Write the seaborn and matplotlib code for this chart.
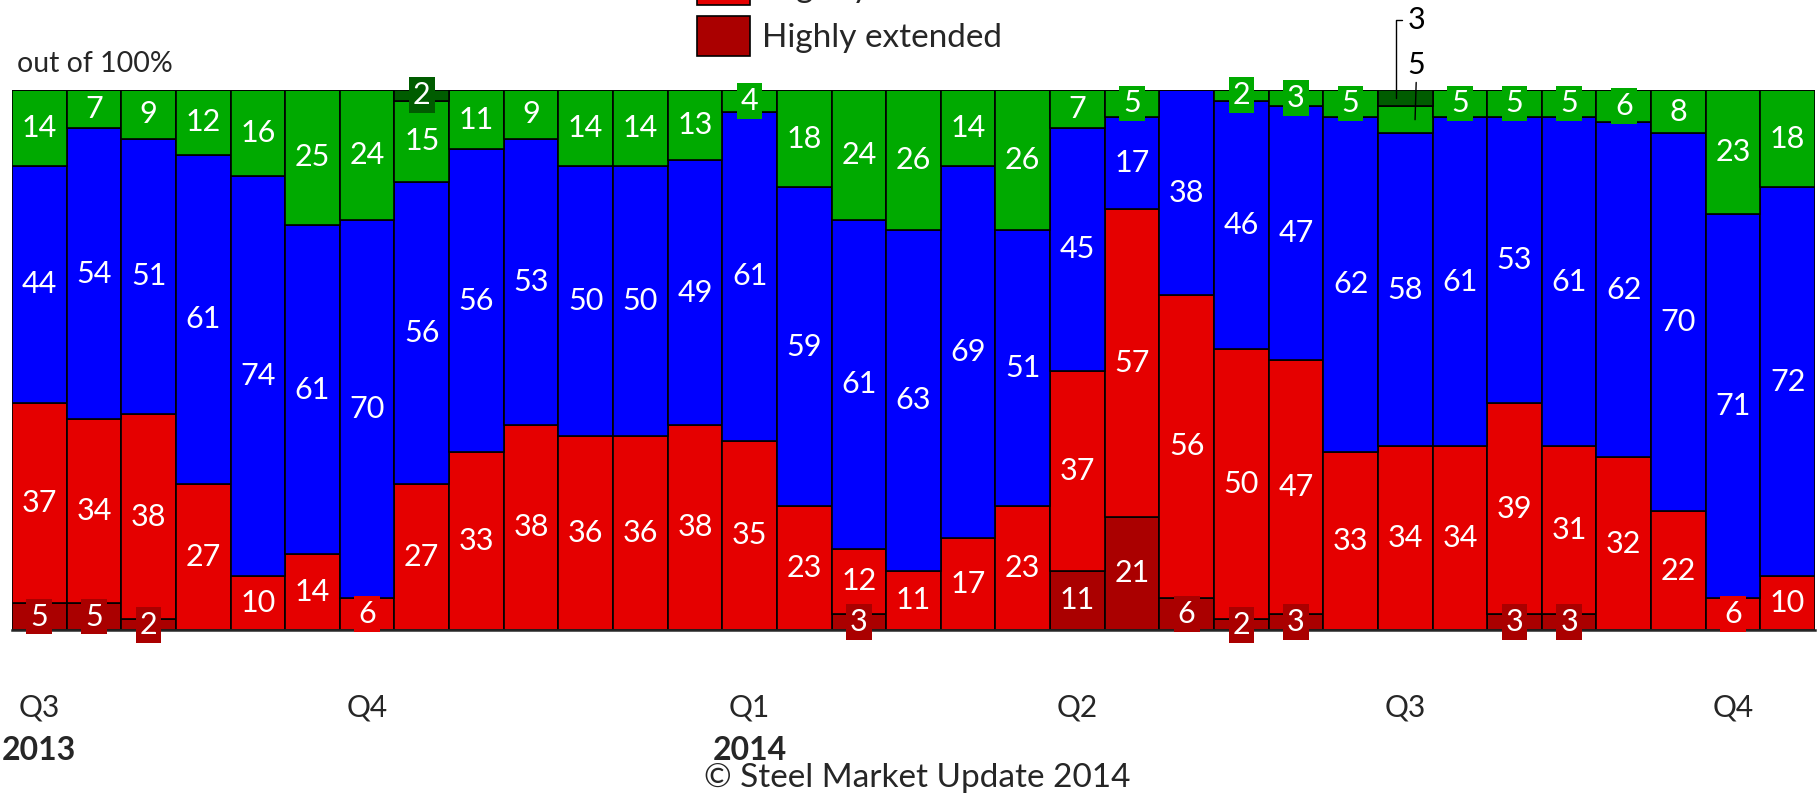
import matplotlib
matplotlib.use("Agg")
import matplotlib.pyplot as plt
import seaborn as sns
import pandas as pd
from matplotlib.patches import Patch

# Survey rounds, mid-2013 through late 2014 (percent of respondents)
surveys = [str(i) for i in range(1, 34)]

highly_extended = [5, 5, 2, 0, 0, 0, 0, 0, 0, 0, 0, 0, 0, 0, 0, 3, 0, 0, 0, 11,
                   21, 6, 2, 3, 0, 0, 0, 3, 3, 0, 0, 0, 0]
extended = [37, 34, 38, 27, 10, 14, 6, 27, 33, 38, 36, 36, 38, 35, 23, 12, 11, 17,
            23, 37, 57, 56, 50, 47, 33, 34, 34, 39, 31, 32, 22, 6, 10]
normal = [44, 54, 51, 61, 74, 61, 70, 56, 56, 53, 50, 50, 49, 61, 59, 61, 63, 69,
          51, 45, 17, 38, 46, 47, 62, 58, 61, 53, 61, 62, 70, 71, 72]
shorter = [14, 7, 9, 12, 16, 25, 24, 15, 11, 9, 14, 14, 13, 4, 18, 24, 26, 14, 26,
           7, 5, 0, 2, 3, 5, 5, 5, 5, 5, 6, 8, 23, 18]
much_shorter = [0, 0, 0, 0, 0, 0, 0, 2, 0, 0, 0, 0, 0, 0, 0, 0, 0, 0, 0, 0, 0, 0,
                0, 0, 0, 3, 0, 0, 0, 0, 0, 0, 0]

series_names = ["Highly extended", "Slightly extended", "Normal",
                "Shorter", "Much shorter"]
series_values = [highly_extended, extended, normal, shorter, much_shorter]
series_colors = ["#AA0000", "#E50000", "#0000FF", "#00AA00", "#005C00"]

quarter_pos = [0, 6, 13, 19, 25, 31]
quarter_labels = ["Q3", "Q4", "Q1", "Q2", "Q3", "Q4"]
year_pos = [0, 13]
year_labels = ["2013", "2014"]

# segments whose labels sit above the plot with leader lines
leader_bar = 25

sns.set_style("white")
plt.rcParams["font.family"] = ["Lato", "DejaVu Sans"]

fig = plt.figure(figsize=(18.2, 7.94), dpi=100)
ax = fig.add_axes([12 / 1820, 1 - 630 / 794, 1803 / 1820, 540 / 794])

bottom = [0] * len(surveys)
for name, vals, col in zip(series_names, series_values, series_colors):
    df = pd.DataFrame({"survey": surveys, "pct": vals})
    sns.barplot(data=df, x="survey", y="pct", bottom=bottom, color=col,
                saturation=1, width=1.0, edgecolor="black", linewidth=1.2,
                errorbar=None, ax=ax)
    for i, (b, v) in enumerate(zip(bottom, vals)):
        if v <= 0 or i == leader_bar and name in ("Shorter", "Much shorter"):
            continue
        ax.text(i, b + v / 2, str(v), ha="center", va="center",
                color="white", fontsize=22, zorder=10,
                bbox=dict(boxstyle="square,pad=0.13", facecolor=col,
                          edgecolor="none"))
    bottom = [b + v for b, v in zip(bottom, vals)]

# leader-line labels for the thin top segments of one bar
base_sh = 100 - much_shorter[leader_bar] - shorter[leader_bar]
ax.annotate(str(much_shorter[leader_bar]),
            xy=(leader_bar - 0.17, 100 - much_shorter[leader_bar] / 2),
            xytext=(leader_bar + 0.21, 113), textcoords="data",
            ha="center", va="center", fontsize=22, color="black",
            arrowprops=dict(arrowstyle="-", color="black", lw=1,
                            connectionstyle="angle,angleA=0,angleB=90,rad=0",
                            shrinkA=2, shrinkB=0))
ax.annotate(str(shorter[leader_bar]),
            xy=(leader_bar + 0.18, base_sh + shorter[leader_bar] / 2),
            xytext=(leader_bar + 0.21, 104.6), textcoords="data",
            ha="center", va="center", fontsize=22, color="black",
            arrowprops=dict(arrowstyle="-", color="black", lw=1,
                            shrinkA=0, shrinkB=0))

ax.set_xlim(-0.5, len(surveys) - 0.5)
ax.set_ylim(0, 100)
ax.set_yticks([])
ax.set_ylabel("")
ax.set_xlabel("")
ax.set_xticks(quarter_pos)
ax.set_xticklabels(quarter_labels, fontsize=21.5)
ax.tick_params(axis="x", length=0, pad=46)
for side in ("top", "left", "right"):
    ax.spines[side].set_visible(False)
ax.spines["bottom"].set_linewidth(1.8)
ax.spines["bottom"].set_zorder(5)

for pos, lab in zip(year_pos, year_labels):
    ax.annotate(lab, xy=(pos, 0), xycoords=("data", "axes fraction"),
                xytext=(0, -120), textcoords="offset pixels",
                ha="center", va="center", fontsize=23, fontweight="bold")

fig.text(17 / 1820, 1 - 72 / 794, "out of 100%", fontsize=20.5,
         ha="left", va="baseline")
fig.text(0.504, 1 - 778 / 794, "\u00a9 Steel Market Update 2014", fontsize=24,
         ha="center", va="center")

handles = [Patch(facecolor=c, edgecolor="black", linewidth=1.2)
           for c in series_colors[:2]][::-1]
fig.legend(handles, series_names[:2][::-1], loc="lower left",
           bbox_to_anchor=(697 / 1820, 1 - 56 / 794), frameon=False,
           fontsize=24, handlelength=1.6, handleheight=1.45,
           handletextpad=0.36, labelspacing=0.33, borderpad=0,
           borderaxespad=0)

fig.savefig("out.png", dpi=100)
